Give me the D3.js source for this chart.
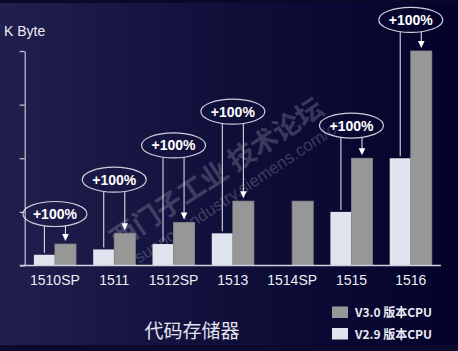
<!DOCTYPE html>
<html>
<head>
<meta charset="utf-8">
<script src="https://cdn.jsdelivr.net/npm/d3@7"></script>
<style>
  html, body { margin: 0; padding: 0; background: #0a0a2c; }
  svg { display: block; }
</style>
</head>
<body>
<div id="chart"></div>
<script>
(function() {
    'use strict';

    // DATA
    const categories = ["1510SP", "1511", "1512SP", "1513", "1514SP", "1515", "1516"];
    const seriesNames = ["V2.9 版本CPU", "V3.0 版本CPU"];
    const v29Values = [100, 150, 200, 300, null, 500, 1000];   // K Byte
    const v30Values = [200, 300, 400, 600, 600, 1000, 2000];   // K Byte
    const gainLabels = ["+100%", "+100%", "+100%", "+100%", null, "+100%", "+100%"];
    const gainLevels = [480, 800, 1120, 1435, null, 1305, 2290]; // where the bubble sits, in K Byte
    const yTicks = [0, 500, 1000, 1500, 2000];

    const width = 458;
    const height = 351;

    const svg = d3.select("#chart")
        .append("svg")
        .attr("width", width)
        .attr("height", height);

    // background
    const defs = svg.append("defs");
    const grad = defs.append("linearGradient")
        .attr("id", "bg")
        .attr("x1", "0").attr("x2", "1").attr("y1", "0").attr("y2", "0");
    grad.append("stop").attr("offset", "0").attr("stop-color", "#211f4e");
    grad.append("stop").attr("offset", "0.5").attr("stop-color", "#100f3a");
    grad.append("stop").attr("offset", "1").attr("stop-color", "#02022a");

    svg.append("rect").attr("width", width).attr("height", height).attr("fill", "url(#bg)");
    svg.append("rect").attr("width", width).attr("height", 3).attr("fill", "#09092c");
    svg.append("rect").attr("y", 345).attr("width", width).attr("height", 6).attr("fill", "#0a0a2a");

    // SCALES
    const x = d3.scaleBand()
        .domain(categories)
        .range([24.7, 441])
        .paddingInner(0.29)
        .paddingOuter(0.155);

    const x1 = d3.scaleBand()
        .domain(seriesNames)
        .range([0, x.bandwidth()]);

    const y = d3.scaleLinear()
        .domain([0, 2000])
        .range([265.5, 51]);

    // watermark
    const wm = svg.append("g")
        .attr("transform", "translate(118,250) rotate(-33.5)")
        .attr("fill", "#ffffff")
        .attr("fill-opacity", 0.2)
        .attr("font-family", "'Noto Sans CJK SC', sans-serif");
    wm.append("text")
        .attr("font-size", "27px")
        .attr("font-weight", "bold")
        .text("西门子工业 技术论坛");
    wm.append("text")
        .attr("x", 10)
        .attr("y", 23)
        .attr("font-size", "17px")
        .attr("font-family", "Arial, 'Liberation Sans', sans-serif")
        .text("support.industry.siemens.com/cs");

    // Y AXIS (ticks only)
    svg.append("g")
        .attr("transform", "translate(24.7,0)")
        .call(d3.axisLeft(y).tickValues(yTicks).tickSize(5).tickSizeOuter(0).tickFormat(""))
        .call(g => g.selectAll("path").attr("stroke", "#c9c9d8").attr("stroke-width", 1.2))
        .call(g => g.selectAll("line").attr("stroke", "#c9c9d8").attr("stroke-width", 1.2));

    // BARS
    const groups = svg.append("g")
        .selectAll("g")
        .data(categories)
        .join("g")
        .attr("transform", d => `translate(${x(d)},0)`);

    groups.append("rect")
        .filter((d, i) => v29Values[i] != null)
        .attr("x", x1(seriesNames[0]))
        .attr("y", d => y(v29Values[categories.indexOf(d)]))
        .attr("width", x1.bandwidth())
        .attr("height", d => y(0) - y(v29Values[categories.indexOf(d)]))
        .attr("fill", "#dfe4ef");

    groups.append("rect")
        .attr("x", x1(seriesNames[1]))
        .attr("y", (d, i) => y(v30Values[i]))
        .attr("width", x1.bandwidth())
        .attr("height", (d, i) => y(0) - y(v30Values[i]))
        .attr("fill", "#979797")
        .attr("stroke", "#8a8a8a")
        .attr("stroke-width", 0.8);

    // baseline
    svg.append("line")
        .attr("x1", 20).attr("x2", 441)
        .attr("y1", y(0)).attr("y2", y(0))
        .attr("stroke", "#d0d0de")
        .attr("stroke-width", 1.4);

    // X LABELS
    svg.append("g")
        .selectAll("text")
        .data(categories)
        .join("text")
        .attr("x", d => x(d) + x.bandwidth() / 2)
        .attr("y", 285)
        .attr("text-anchor", "middle")
        .attr("fill", "#ececf4")
        .attr("font-size", "14px")
        .attr("font-family", "Arial, 'Liberation Sans', sans-serif")
        .text(d => d);

    // +100% bubbles
    const rx = 32, ry = 12.5;
    const notes = svg.append("g")
        .selectAll("g")
        .data(categories.filter((d, i) => gainLabels[i] != null))
        .join("g");

    notes.each(function(d) {
        const i = categories.indexOf(d);
        const g = d3.select(this);
        const cx = x(d) + x.bandwidth() / 2;
        const cy = y(gainLevels[i]);
        const wx = x(d) + x1(seriesNames[0]) + x1.bandwidth() / 2;
        const gx = x(d) + x1(seriesNames[1]) + x1.bandwidth() / 2;
        const edge = px => cy + ry * Math.sqrt(1 - Math.pow((px - cx) / rx, 2));

        g.append("line")
            .attr("x1", wx).attr("x2", wx)
            .attr("y1", edge(wx)).attr("y2", y(v29Values[i]) - 2)
            .attr("stroke", "#d8d8e4").attr("stroke-width", 1.1);

        const tip = y(v30Values[i]) - 3;
        g.append("line")
            .attr("x1", gx).attr("x2", gx)
            .attr("y1", edge(gx)).attr("y2", tip - 6)
            .attr("stroke", "#d8d8e4").attr("stroke-width", 1.1);
        g.append("path")
            .attr("d", `M${gx - 3.3},${tip - 7}L${gx + 3.3},${tip - 7}L${gx},${tip}Z`)
            .attr("fill", "#ffffff");

        g.append("ellipse")
            .attr("cx", cx).attr("cy", cy)
            .attr("rx", rx).attr("ry", ry)
            .attr("fill", "none")
            .attr("stroke", "#cfcfdc")
            .attr("stroke-width", 1.2);

        g.append("text")
            .attr("x", cx).attr("y", cy + 5)
            .attr("text-anchor", "middle")
            .attr("fill", "#ffffff")
            .attr("font-size", "14px")
            .attr("font-weight", "bold")
            .attr("font-family", "Arial, 'Liberation Sans', sans-serif")
            .text(gainLabels[i]);
    });

    // axis unit
    svg.append("text")
        .attr("x", 4).attr("y", 36)
        .attr("fill", "#ececf4")
        .attr("font-size", "14px")
        .attr("font-family", "Arial, 'Liberation Sans', sans-serif")
        .text("K Byte");

    // title
    svg.append("text")
        .attr("x", 192).attr("y", 338)
        .attr("text-anchor", "middle")
        .attr("fill", "#e4e4ee")
        .attr("font-size", "19px")
        .attr("font-family", "'Noto Sans CJK SC', sans-serif")
        .text("代码存储器");

    // LEGEND
    const legendItems = [
        { name: seriesNames[1], color: "#979797" },
        { name: seriesNames[0], color: "#dfe4ef" }
    ];
    const legend = svg.append("g")
        .selectAll("g")
        .data(legendItems)
        .join("g")
        .attr("transform", (d, i) => `translate(332,${306.5 + i * 21.5})`);

    legend.append("rect")
        .attr("width", 16).attr("height", 11.5)
        .attr("fill", d => d.color);

    legend.append("text")
        .attr("x", 23).attr("y", 10.8)
        .attr("fill", "#ececf4")
        .attr("font-size", "12px")
        .attr("font-weight", "bold")
        .attr("font-family", "'Noto Sans CJK SC', sans-serif")
        .text(d => d.name);
})();
</script>
</body>
</html>
